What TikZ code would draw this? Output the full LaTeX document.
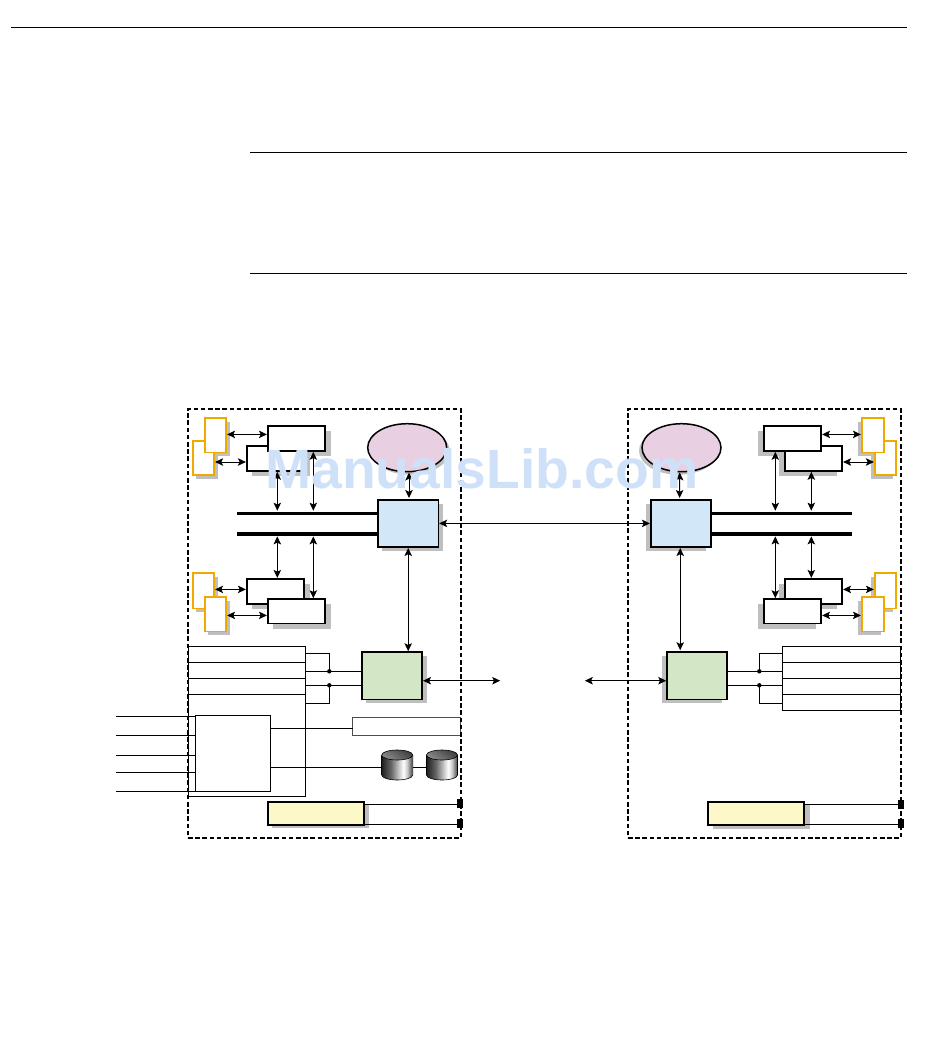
\documentclass[tikz,border=0pt]{standalone}
\usepackage{fontspec}
\setmainfont{Liberation Sans}
\usetikzlibrary{arrows.meta,calc,shapes.geometric}
\pgfdeclarelayer{bg}
\pgfsetlayers{bg,main}
\definecolor{ambr}{HTML}{EFA900}
\definecolor{lil}{HTML}{E8D0E2}
\definecolor{skyb}{HTML}{D2E8F9}
\definecolor{mint}{HTML}{D3E7C6}
\definecolor{crem}{HTML}{FCF8C8}
\definecolor{shd}{HTML}{BFBFBF}
\definecolor{wmk}{HTML}{CFE1F9}
\pgfdeclarehorizontalshading{drumbody}{100bp}{color(0bp)=(black!88);color(25bp)=(black!88);color(40bp)=(black!60);color(60bp)=(white);color(66bp)=(black!20);color(75bp)=(black!75);color(100bp)=(black!75)}
\tikzset{
  x=1pt,y=-1pt,
  rawbox/.style={rectangle,inner sep=0pt,outer sep=0pt,anchor=north west},
  thick box/.style={rawbox,draw=black,line width=1.8pt,fill=white},
  ambrbox/.style={rawbox,draw=ambr,line width=1.8pt,fill=white,minimum width=21.6pt,minimum height=34.4pt},
  whbox/.style={thick box,minimum width=57.6pt,minimum height=25pt},
  bluebox/.style={thick box,fill=skyb,minimum width=60.4pt,minimum height=47.4pt},
  greenbox/.style={thick box,fill=mint,minimum width=60.2pt,minimum height=47.4pt},
  yelbox/.style={thick box,fill=crem,minimum width=96.6pt,minimum height=22.6pt},
  oval/.style={ellipse,inner sep=0pt,outer sep=0pt,draw=black,line width=1.5pt,fill=lil,minimum width=79pt,minimum height=48pt},
  busbar/.style={rawbox,fill=black,minimum height=3.8pt,anchor=west},
  thin/.style={draw=black,line width=1pt},
  thinbox/.style={rawbox,draw=black,line width=1pt,fill=none},
  panel/.style={rawbox,draw=black,line width=1.6pt,dash pattern=on 4.6pt off 2.6pt,fill=none},
  dbl/.style={line width=.9pt,{Stealth[length=8pt,width=7.5pt,inset=1.8pt]}-{Stealth[length=8pt,width=7.5pt,inset=1.8pt]},shorten <=.8pt,shorten >=.8pt},
  dotn/.style={circle,fill=black,inner sep=0pt,outer sep=0pt,minimum size=4.4pt},
  sq/.style={rectangle,fill=black,inner sep=0pt,outer sep=0pt,minimum width=6.2pt,minimum height=9pt},
  rulel/.style={draw=black,line width=1pt},
}
\newcommand{\shbox}[3]{\begin{pgfonlayer}{bg}\fill[shd] ($(#1.south west)+(#2,#3)$) rectangle ($(#1.north east)+(#2,#3)$);\end{pgfonlayer}}
\newcommand{\shoval}[2]{\begin{pgfonlayer}{bg}\fill[shd] ($(#1.center)+(#2,3)$) ellipse [x radius=39.5pt,y radius=24pt];\end{pgfonlayer}}
\newcommand{\drum}[2]{%
  \coordinate (#1w) at (#2,767.3);
  \coordinate (#1e) at ($(#2,767.3)+(31,0)$);
  \shade[shading=drumbody]
    (#2,755) -- (#2,775) arc[start angle=180,end angle=360,x radius=15.5pt,y radius=5pt] -- ($(#2,755)+(31,0)$) -- cycle;
  \draw[line width=.6pt,draw=black] (#2,755) -- (#2,775) arc[start angle=180,end angle=360,x radius=15.5pt,y radius=5pt] -- ($(#2,755)+(31,0)$);
  \shade[draw=black,line width=.6pt,top color=black!75,middle color=white,bottom color=black!45,shading angle=-35] ($(#2,755)+(15.5,0)$) ellipse [x radius=15.5pt,y radius=5pt];
}
\begin{document}
\begin{tikzpicture}
\useasboundingbox (0,0) rectangle (950,1046);
% page rules
\coordinate (r1a) at (11,27.4); \coordinate (r1b) at (907,27.4);
\coordinate (r2a) at (250,152.6); \coordinate (r2b) at (907,152.6);
\coordinate (r3a) at (250,273.6); \coordinate (r3b) at (907,273.6);
\draw[rulel] (r1a) -- (r1b);
\draw[rulel] (r2a) -- (r2b);
\draw[rulel] (r3a) -- (r3b);
% guide coordinates
\coordinate (xa) at (277.3,0); \coordinate (xb) at (313.3,0);
\coordinate (xc) at (775.3,0); \coordinate (xd) at (811.3,0);
%%%%%%%%% left
\node[ambrbox] (la2) at (192.7,440.8) {}; \shbox{la2}{3.7}{3.7}
\node[ambrbox] (la1) at (204.7,418) {}; \shbox{la1}{3.7}{3.7}
\node[ambrbox,minimum height=35.6pt] (la3) at (192.7,572.8) {}; \shbox{la3}{3.7}{3.7}
\node[ambrbox] (la4) at (204.7,597) {}; \shbox{la4}{3.7}{3.7}
\node[whbox] (lw2) at (246.7,446) {}; \shbox{lw2}{5.3}{5.3}
\node[whbox] (lw1) at (267.7,426) {}; \shbox{lw1}{5.3}{5.3}
\node[whbox] (lw3) at (246.7,578.7) {}; \shbox{lw3}{5.3}{5.3}
\node[whbox,minimum height=24.4pt] (lw4) at (267.7,599) {}; \shbox{lw4}{5.3}{5.3}
\node[oval] (lo) at (407.2,447.7) {}; \shoval{lo}{3}
\node[busbar,minimum width=141.3pt] (lbt) at (236.7,513.4) {};
\node[busbar,minimum width=141.3pt] (lbb) at (236.7,533.7) {};
\node[bluebox] (lc) at (378,499.8) {}; \shbox{lc}{4.3}{4}
\node[greenbox] (lg) at (362,652) {}; \shbox{lg}{4.3}{3.5}
\node[yelbox] (ly) at (267.7,802) {}; \shbox{ly}{4.6}{3.4}
\draw[dbl] (la1.east |- 0,434.4) -- (lw1.west |- 0,434.4);
\draw[dbl] (la2.east |- 0,462) -- (lw2.west |- 0,462);
\draw[dbl] (la3.east |- 0,589.4) -- (lw3.west |- 0,589.4);
\draw[dbl] (la4.east |- 0,615.4) -- (lw4.west |- 0,615.4);
\draw[dbl] (lw2.south -| xa) -- (lbt.north -| xa);
\draw[dbl] (lw1.south -| xb) -- (lbt.north -| xb);
\draw[dbl] (lbb.south -| xa) -- (lw3.north -| xa);
\draw[dbl] (lbb.south -| xb) -- (lw4.north -| xb);
\draw[dbl] ($(lo.south)+(1.8,0)$) -- ($(lc.north)+(.8,-1)$);
\draw[dbl] (lc.south) -- (lg.north -| lc.south);
% left port block
\node[thinbox,minimum width=117pt,minimum height=150pt] (lp) at (188.3,646.3) {};
\coordinate (lp1) at (188.3,662.3); \coordinate (lp2) at (188.3,678.3); \coordinate (lp3) at (188.3,694.7);
\draw[thin] (lp1) -- (lp1 -| lp.east);
\draw[thin] (lp2) -- (lp2 -| lp.east);
\draw[line width=1.5pt] (lp3) -- (lp3 -| lp.east);
\node[dotn] (ld1) at (329.3,671.3) {};
\node[dotn] (ld2) at (329.3,685.3) {};
\draw[thin] (lp.east |- 0,653.3) -| (ld1.center);
\draw[thin] (lp.east |- ld1) -- (lg.west |- ld1);
\draw[thin] (lp.east |- ld2) -- (lg.west |- ld2);
\draw[thin] (lp.east |- 0,703.3) -| (ld2.center);
\node[thinbox,minimum width=75pt,minimum height=76pt] (lq) at (195.3,715.3) {};
\coordinate (e1) at (116,716.3); \coordinate (e2) at (116,735.3); \coordinate (e3) at (116,755.3); \coordinate (e4) at (116,772.3); \coordinate (e5) at (116,791.3);
\draw[thin] (e1) -- (lq.west |- e1);
\draw[thin] (e2) -- (lq.west |- e2);
\draw[thin] (e3) -- (lq.west |- e3);
\draw[thin] (e4) -- (lq.west |- e4);
\draw[thin] (e5) -- (lq.west |- e5);
\node[rawbox,draw=black!70,line width=1pt,fill=none,minimum width=108pt,minimum height=17.6pt] (lr) at (352.7,717.7) {};
\coordinate (lrin) at ($(lr.west)+(0,1.8)$);
\draw[thin] (lq.east |- lrin) -- (lrin);
\drum{dra}{381.7}
\drum{drb}{426.5}
\draw[thin] (lq.east |- draw) -- (draw);
\draw[thin] (drae) -- (drbw);
\node[sq] (ls1) at (460.3,803.5) {};
\node[sq] (ls2) at (460.3,823.5) {};
\draw[thin] (ly.east |- 0,804.3) -- (ls1.west |- 0,804.3);
\draw[thin] (ly.east |- 0,824.3) -- (ls2.west |- 0,824.3);
\node[panel,minimum width=273pt,minimum height=429pt] (lpanel) at (188,409) {};
%%%%%%%%% right
\node[ambrbox] (ra2) at (874.7,440.8) {}; \shbox{ra2}{-3.7}{3.7}
\node[ambrbox,minimum width=22.6pt] (ra1) at (861.7,418) {}; \shbox{ra1}{-3.7}{3.7}
\node[ambrbox,minimum height=35.6pt] (ra3) at (874.7,572.8) {}; \shbox{ra3}{-3.7}{3.7}
\node[ambrbox,minimum width=22.6pt] (ra4) at (861.7,597) {}; \shbox{ra4}{-3.7}{3.7}
\node[whbox] (rw2) at (784.7,446) {}; \shbox{rw2}{-5.3}{5.3}
\node[whbox] (rw1) at (763.7,426) {}; \shbox{rw1}{-5.3}{5.3}
\node[whbox] (rw3) at (784.7,578.7) {}; \shbox{rw3}{-5.3}{5.3}
\node[whbox,minimum height=24.4pt] (rw4) at (763.7,599) {}; \shbox{rw4}{-5.3}{5.3}
\node[oval] (ro) at (681.5,447.7) {}; \shoval{ro}{-3}
\node[busbar,minimum width=141pt] (rbt) at (711,513.4) {};
\node[busbar,minimum width=141pt] (rbb) at (711,533.7) {};
\node[bluebox] (rc) at (650.7,499.8) {}; \shbox{rc}{-5}{4}
\node[greenbox,minimum width=60pt] (rg) at (667,652) {}; \shbox{rg}{-5}{3.5}
\node[yelbox,minimum height=23.3pt] (ry) at (707.7,802) {}; \shbox{ry}{5.3}{3.4}
\draw[dbl] (rw1.east |- 0,434.4) -- (ra1.west |- 0,434.4);
\draw[dbl] (rw2.east |- 0,462) -- (ra2.west |- 0,462);
\draw[dbl] (rw3.east |- 0,589.4) -- (ra3.west |- 0,589.4);
\draw[dbl] (rw4.east |- 0,615.4) -- (ra4.west |- 0,615.4);
\draw[dbl] (rw1.south -| xc) -- (rbt.north -| xc);
\draw[dbl] (rw2.south -| xd) -- (rbt.north -| xd);
\draw[dbl] (rbb.south -| xc) -- (rw4.north -| xc);
\draw[dbl] (rbb.south -| xd) -- (rw3.north -| xd);
\draw[dbl] ($(ro.south)+(-1.8,0)$) -- ($(rc.north)+(-1.3,-1)$);
\draw[dbl] ($(rc.south)+(-.7,0)$) -- ($(rg.north)+(-16.8,-1)$);
% right port block
\node[thinbox,minimum width=118.4pt,minimum height=64pt] (rp) at (782.3,646.3) {};
\coordinate (rp1) at (782.3,662.3); \coordinate (rp2) at (782.3,678.3); \coordinate (rp3) at (782.3,694.7);
\draw[thin] (rp1) -- (rp1 -| rp.east);
\draw[thin] (rp2) -- (rp2 -| rp.east);
\draw[line width=1.5pt] (rp3) -- (rp3 -| rp.east);
\node[dotn] (rd1) at (759.3,671.3) {};
\node[dotn] (rd2) at (759.3,685.3) {};
\draw[thin] (rp.west |- 0,653.3) -| (rd1.center);
\draw[thin] (rg.east |- rd1) -- (rp.west |- rd1);
\draw[thin] (rg.east |- rd2) -- (rp.west |- rd2);
\draw[thin] (rp.west |- 0,703.3) -| (rd2.center);
\node[sq,minimum width=5.8pt] (rs1) at (901,804.5) {};
\node[sq,minimum width=5.8pt] (rs2) at (901,823.5) {};
\draw[thin] (ry.east |- 0,804.3) -- (rs1.west |- 0,804.3);
\draw[thin] (ry.east |- 0,824.3) -- (rs2.west |- 0,824.3);
\node[panel,minimum width=273pt,minimum height=429pt] (rpanel) at (628,409) {};
%%%%%%%%% links
\draw[dbl] (lc.east |- 0,523.4) -- (rc.west |- 0,523.4);
\coordinate (gl) at (501,680.7); \coordinate (gr) at (584,680.7);
\draw[dbl] (lg.east |- gl) -- (gl);
\draw[dbl] (gr) -- (rg.west |- gr);
% watermark
\node[anchor=base west,inner sep=0pt,text=wmk,font=\fontsize{55.3}{55.3}\selectfont\bfseries] (wm) at (265,488) {ManualsLib.com};
\end{tikzpicture}
\end{document}
